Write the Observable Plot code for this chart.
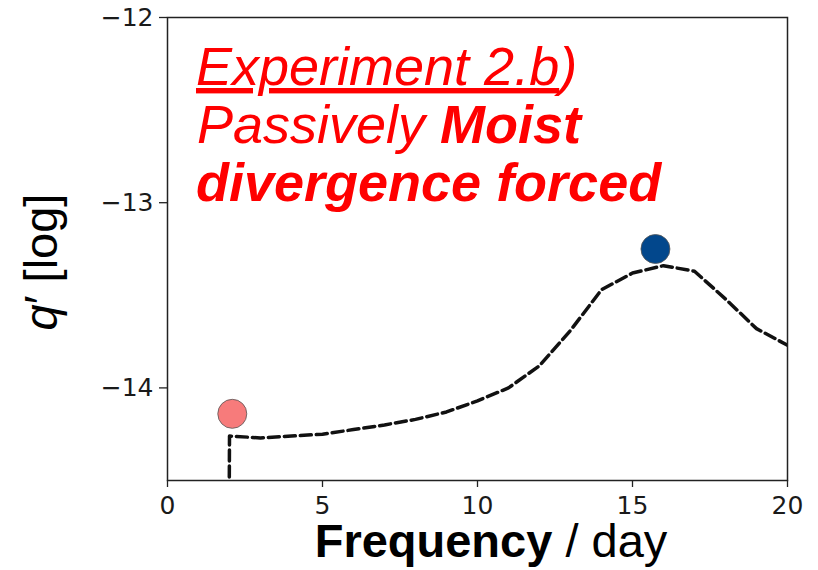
<!DOCTYPE html>
<html>
<head>
<meta charset="utf-8">
<script src="https://cdn.jsdelivr.net/npm/d3@7"></script>
<script src="https://cdn.jsdelivr.net/npm/@observablehq/plot@0.6"></script>
<style>
  html, body { margin: 0; padding: 0; background: #fff; }
  #chart svg { display: block; }
</style>
</head>
<body>
<div id="chart"></div>
<script>
// Spectrum (dashed line)
const freq = [1.98, 2.0, 3, 4, 5, 6, 7, 8, 9, 10, 11, 12, 13, 14, 15, 16, 17, 18, 19, 20];
const qLog = [-15, -14.26, -14.27, -14.26, -14.25, -14.225, -14.20, -14.17, -14.13, -14.07, -14.0, -13.88, -13.69, -13.47, -13.38, -13.34, -13.37, -13.52, -13.68, -13.77];

// Highlighted markers
const markerFreq = [2.09, 15.74];
const markerQ = [-14.14, -13.25];
const markerColor = ["#f77b7b", "#02478c"];

// Axis ticks
const xTicks = [0, 5, 10, 15, 20];
const yTicks = [-14, -13, -12];

const lineData = freq.map((f, i) => ({f, q: qLog[i]}));
const markers = markerFreq.map((f, i) => ({f, q: markerQ[i], c: markerColor[i]}));

const chart = Plot.plot({
  width: 818,
  height: 570,
  marginLeft: 167,
  marginRight: 31,
  marginTop: 17,
  marginBottom: 90,
  style: {fontFamily: "DejaVu Sans", fontSize: "25px", color: "#1a1a1a", background: "#fff"},
  x: {domain: [0, 20]},
  y: {domain: [-14.5, -12]},
  marks: [
    Plot.frame({stroke: "#222", strokeWidth: 1.5}),
    Plot.axisX({ticks: xTicks, tickSize: 7, tickPadding: 9, fontSize: 25, label: null, tickFormat: d => String(d), stroke: "#222", strokeWidth: 1.3}),
    Plot.axisY({ticks: yTicks, tickSize: 8, tickPadding: 6, fontSize: 25, label: null, tickFormat: d => (d < 0 ? "\u2212" : "") + Math.abs(d), stroke: "#222", strokeWidth: 1.3}),
    Plot.line(lineData, {x: "f", y: "q", stroke: "#111", strokeWidth: 3.5, strokeDasharray: "11,5", clip: true}),
    Plot.dot(markers, {x: "f", y: "q", r: 14.5, fill: "c", stroke: "#555", strokeWidth: 0.8})
  ]
});

const svg = d3.select(chart);

// y label
const yl = svg.append("text")
  .attr("transform", "translate(57,262) rotate(-90)")
  .attr("text-anchor", "middle")
  .attr("font-family", "Liberation Sans, Arial, sans-serif")
  .attr("font-size", 47)
  .attr("fill", "#000");
yl.append("tspan").attr("font-style", "italic").text("q");
yl.append("tspan").text("\u2032 [log]");

// x label
const xl = svg.append("text")
  .attr("x", 491).attr("y", 557)
  .attr("text-anchor", "middle")
  .attr("font-family", "Liberation Sans, Arial, sans-serif")
  .attr("font-size", 47)
  .attr("fill", "#000");
xl.append("tspan").attr("font-weight", "bold").text("Frequency");
xl.append("tspan").text(" / day");

// Annotation
const ann = svg.append("g")
  .attr("text-anchor", "start")
  .attr("font-family", "Liberation Sans, Arial, sans-serif")
  .attr("font-size", 54)
  .attr("font-style", "italic")
  .attr("fill", "#ff0000");
const l1 = ann.append("text").attr("x", 196).attr("y", 85);
l1.append("tspan").style("text-decoration", "underline").text("Experiment 2.b");
l1.append("tspan").text(")");
const l2 = ann.append("text").attr("x", 197).attr("y", 143);
l2.append("tspan").text("Passively ");
l2.append("tspan").attr("font-weight", "bold").text("Moist");
ann.append("text").attr("x", 196).attr("y", 201).attr("font-weight", "bold").text("divergence forced");

document.getElementById("chart").appendChild(chart);
</script>
</body>
</html>
